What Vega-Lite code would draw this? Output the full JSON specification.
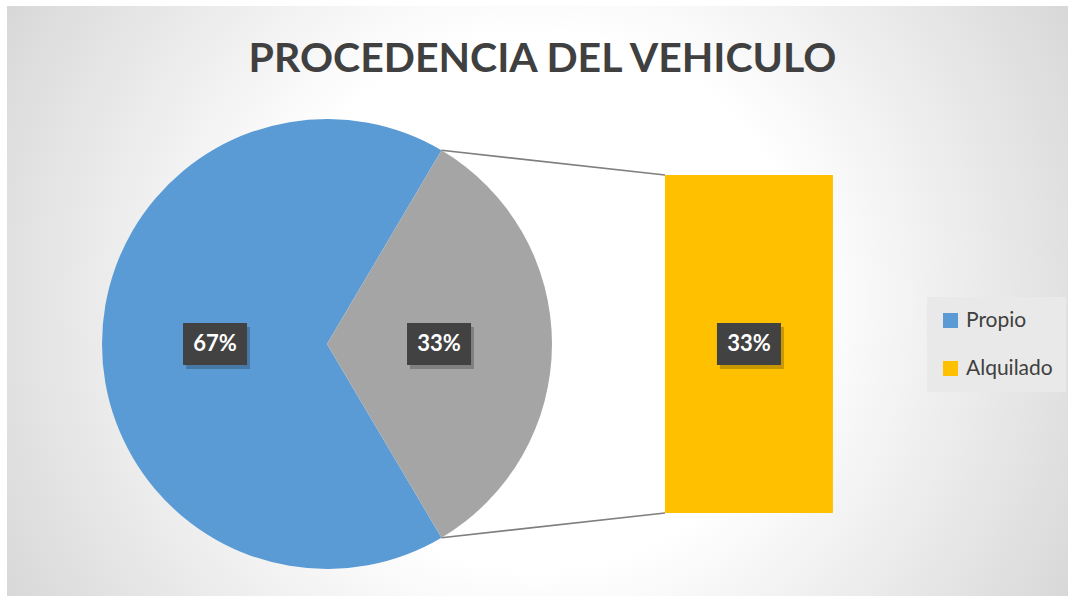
{
  "$schema": "https://vega.github.io/schema/vega-lite/v6.json",
  "width": 1061,
  "height": 590,
  "autosize": "none",
  "padding": {"left": 7, "top": 6, "right": 0, "bottom": 0},
  "background": "white",
  "config": {"view": {"stroke": null}, "font": "Lato"},
  "title": {
    "text": "PROCEDENCIA DEL VEHICULO",
    "font": "Lato",
    "fontSize": 41,
    "fontWeight": "bold",
    "color": "#404040",
    "anchor": "middle",
    "offset": -75,
    "dx": 5
  },
  "datasets": {
    "torta": [
      {"segmento": "Propio", "valor": 0.67},
      {"segmento": "Otro", "valor": 0.33}
    ],
    "barra": [
      {"segmento": "Alquilado", "valor": 0.33}
    ],
    "vacio": [{}]
  },
  "layer": [
    {
      "data": {"name": "vacio"},
      "mark": {
        "type": "rect",
        "fill": {
          "gradient": "radial",
          "x1": 0.5, "y1": 0.5, "r1": 0,
          "x2": 0.5, "y2": 0.5, "r2": 0.72,
          "stops": [
            {"offset": 0, "color": "#ffffff"},
            {"offset": 0.35, "color": "#ffffff"},
            {"offset": 1, "color": "#c6c6c6"}
          ]
        }
      },
      "encoding": {
        "x": {"datum": 0, "type": "quantitative", "scale": {"domain": [0, 1.0359], "nice": false, "zero": false}, "axis": null},
        "x2": {"datum": 1.0359},
        "y": {"datum": -0.08104, "type": "quantitative", "scale": {"domain": [-0.08104, 0.495], "nice": false, "zero": false}, "axis": null},
        "y2": {"datum": 0.495}
      }
    },
    {
      "data": {"name": "vacio"},
      "mark": {"type": "rule", "color": "#7f7f7f", "strokeWidth": 1.6},
      "encoding": {
        "x": {"datum": 0.4242, "type": "quantitative"},
        "y": {"datum": 0.3541, "type": "quantitative"},
        "x2": {"datum": 0.6424},
        "y2": {"datum": 0.33}
      }
    },
    {
      "data": {"name": "vacio"},
      "mark": {"type": "rule", "color": "#7f7f7f", "strokeWidth": 1.6},
      "encoding": {
        "x": {"datum": 0.4242, "type": "quantitative"},
        "y": {"datum": -0.0241, "type": "quantitative"},
        "x2": {"datum": 0.6424},
        "y2": {"datum": 0}
      }
    },
    {
      "data": {"name": "torta"},
      "mark": {"type": "arc", "radius": 225},
      "encoding": {
        "x": {"datum": 0.3124, "type": "quantitative"},
        "y": {"datum": 0.165, "type": "quantitative"},
        "theta": {"field": "valor", "type": "quantitative", "stack": true, "scale": {"range": [0.5341, 6.8173]}},
        "color": {
          "field": "segmento",
          "type": "nominal",
          "scale": {"domain": ["Propio", "Alquilado", "Otro"], "range": ["#5b9bd5", "#ffc000", "#a5a5a5"]},
          "legend": {
            "title": null,
            "orient": "none",
            "legendX": 920,
            "legendY": 291,
            "values": ["Propio", "Alquilado"],
            "symbolType": "square",
            "symbolSize": 225,
            "symbolStrokeWidth": 0,
            "labelFont": "Lato",
            "labelFontSize": 21,
            "labelColor": "#404040",
            "labelOffset": 5,
            "fillColor": "#e9e9e9",
            "padding": 13,
            "rowPadding": 26
          }
        }
      }
    },
    {
      "data": {"name": "barra"},
      "mark": {"type": "rect"},
      "encoding": {
        "x": {"datum": 0.6424, "type": "quantitative"},
        "x2": {"datum": 0.8064},
        "y": {"field": "valor", "type": "quantitative"},
        "y2": {"datum": 0},
        "color": {
          "field": "segmento",
          "type": "nominal",
          "scale": {"domain": ["Propio", "Alquilado", "Otro"], "range": ["#5b9bd5", "#ffc000", "#a5a5a5"]}
        }
      }
    },
    {
      "data": {"name": "vacio"},
      "mark": {"type": "point", "shape": "M-1,-0.656H1V0.656H-1Z", "size": 4096, "filled": true, "fill": "#000000", "opacity": 0.22, "strokeWidth": 0, "xOffset": 3, "yOffset": 4},
      "encoding": {"x": {"datum": 0.2031, "type": "quantitative"}, "y": {"datum": 0.165, "type": "quantitative"}}
    },
    {
      "data": {"name": "vacio"},
      "mark": {"type": "point", "shape": "M-1,-0.656H1V0.656H-1Z", "size": 4096, "filled": true, "fill": "#000000", "opacity": 0.22, "strokeWidth": 0, "xOffset": 3, "yOffset": 4},
      "encoding": {"x": {"datum": 0.4218, "type": "quantitative"}, "y": {"datum": 0.165, "type": "quantitative"}}
    },
    {
      "data": {"name": "vacio"},
      "mark": {"type": "point", "shape": "M-1,-0.656H1V0.656H-1Z", "size": 4096, "filled": true, "fill": "#000000", "opacity": 0.22, "strokeWidth": 0, "xOffset": 3, "yOffset": 4},
      "encoding": {"x": {"datum": 0.7244, "type": "quantitative"}, "y": {"datum": 0.165, "type": "quantitative"}}
    },
    {
      "data": {"name": "vacio"},
      "mark": {"type": "point", "shape": "M-1,-0.656H1V0.656H-1Z", "size": 4096, "filled": true, "fill": "#424242", "opacity": 1, "strokeWidth": 0},
      "encoding": {"x": {"datum": 0.2031, "type": "quantitative"}, "y": {"datum": 0.165, "type": "quantitative"}}
    },
    {
      "data": {"name": "vacio"},
      "mark": {"type": "point", "shape": "M-1,-0.656H1V0.656H-1Z", "size": 4096, "filled": true, "fill": "#424242", "opacity": 1, "strokeWidth": 0},
      "encoding": {"x": {"datum": 0.4218, "type": "quantitative"}, "y": {"datum": 0.165, "type": "quantitative"}}
    },
    {
      "data": {"name": "vacio"},
      "mark": {"type": "point", "shape": "M-1,-0.656H1V0.656H-1Z", "size": 4096, "filled": true, "fill": "#424242", "opacity": 1, "strokeWidth": 0},
      "encoding": {"x": {"datum": 0.7244, "type": "quantitative"}, "y": {"datum": 0.165, "type": "quantitative"}}
    },
    {
      "data": {"name": "torta"},
      "mark": {"type": "text", "radius": 112, "font": "Lato", "fontSize": 22, "fontWeight": "bold", "fill": "#ffffff", "align": "center", "baseline": "middle"},
      "encoding": {
        "x": {"datum": 0.3124, "type": "quantitative"},
        "y": {"datum": 0.165, "type": "quantitative"},
        "theta": {"field": "valor", "type": "quantitative", "stack": true, "scale": {"range": [0.5341, 6.8173]}},
        "detail": {"field": "segmento", "type": "nominal"},
        "text": {"field": "valor", "type": "quantitative", "format": ".0%"}
      }
    },
    {
      "data": {"name": "barra"},
      "mark": {"type": "text", "font": "Lato", "fontSize": 22, "fontWeight": "bold", "fill": "#ffffff", "align": "center", "baseline": "middle"},
      "encoding": {
        "x": {"datum": 0.7244, "type": "quantitative"},
        "y": {"datum": 0.165, "type": "quantitative"},
        "text": {"field": "valor", "type": "quantitative", "format": ".0%"}
      }
    }
  ]
}
